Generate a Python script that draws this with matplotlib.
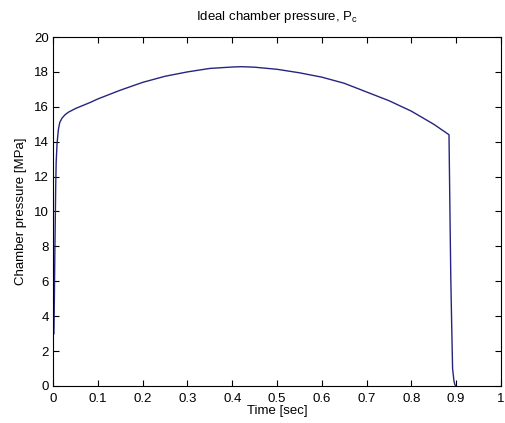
import numpy as np
import matplotlib
matplotlib.use("Agg")
import matplotlib.pyplot as plt

# chamber pressure trace
time_s = [0.002, 0.003, 0.004, 0.005, 0.006, 0.007, 0.009, 0.012, 0.015, 0.02, 0.027,
          0.035, 0.05, 0.083, 0.1, 0.15, 0.2, 0.25, 0.3, 0.35, 0.4, 0.42, 0.45, 0.5,
          0.55, 0.6, 0.65, 0.7, 0.75, 0.8, 0.85, 0.884, 0.886, 0.888, 0.890, 0.892,
          0.895, 0.897, 0.899]
p_mpa = [3.0, 5.0, 7.5, 9.5, 11.5, 12.8, 13.9, 14.7, 15.1, 15.35, 15.55,
         15.7, 15.9, 16.25, 16.45, 16.95, 17.4, 17.75, 18.0, 18.2, 18.28, 18.3, 18.27, 18.15,
         17.95, 17.7, 17.35, 16.85, 16.35, 15.75, 15.0, 14.4, 10.2, 6.2, 3.5, 1.0,
         0.3, 0.08, 0.0]

xticks = np.arange(0, 1.01, 0.1)
yticks = np.arange(0, 21, 2)

plt.rcParams['font.family'] = ['Liberation Sans', 'DejaVu Sans']
plt.rcParams['font.size'] = 9.5

fig = plt.figure(figsize=(5.05, 4.23), dpi=100)
ax = fig.add_axes([0.105, 0.0875, 0.887, 0.825])
ax.plot(time_s, p_mpa, color='#25257f', lw=1.0)

ax.set_xlim(0, 1)
ax.set_ylim(0, 20)
ax.set_xticks(xticks)
ax.set_xticklabels(['0', '0.1', '0.2', '0.3', '0.4', '0.5', '0.6', '0.7', '0.8', '0.9', '1'])
ax.set_yticks(yticks)
ax.tick_params(direction='in', length=4, width=0.8, top=True, right=True, pad=3)
ax.tick_params(axis='x', pad=5)
for s in ax.spines.values():
    s.set_linewidth(0.8)

ax.set_title('Ideal chamber pressure, P$_\\mathregular{c}$', fontsize=9.5, pad=12)
ax.set_xlabel('Time [sec]', labelpad=0)
ax.set_ylabel('Chamber pressure [MPa]', labelpad=5)

fig.savefig('out.png', dpi=100)
